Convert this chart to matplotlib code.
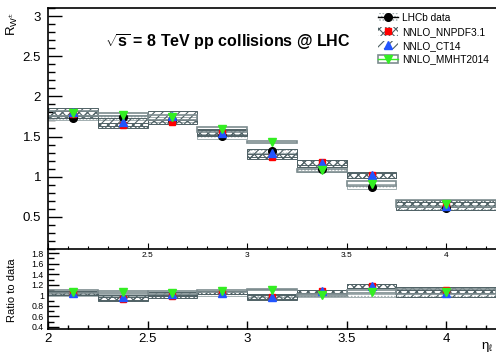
import matplotlib
matplotlib.use("Agg")
import matplotlib.pyplot as plt
from matplotlib.lines import Line2D
from matplotlib.patches import Rectangle
from matplotlib.ticker import MultipleLocator
import numpy as np

plt.rcParams['font.family'] = ['Liberation Sans', 'DejaVu Sans']
plt.rcParams['mathtext.fontset'] = 'custom'
plt.rcParams['mathtext.rm'] = 'Liberation Sans'
plt.rcParams['mathtext.it'] = 'Liberation Sans:italic'
plt.rcParams['mathtext.bf'] = 'Liberation Sans:bold'
plt.rcParams['hatch.linewidth'] = 0.8

# eta bins
eta_lo = [2.0, 2.25, 2.5, 2.75, 3.0, 3.25, 3.5, 3.75]
eta_hi = [2.25, 2.5, 2.75, 3.0, 3.25, 3.5, 3.75, 4.25]
eta_mid = [2.125, 2.375, 2.625, 2.875, 3.125, 3.375, 3.625, 4.0]

# main panel: R_W values and half-height of the boxes
lhcb = [1.735, 1.74, 1.71, 1.505, 1.32, 1.09, 0.873, 0.615]
nnpdf = [1.775, 1.64, 1.68, 1.55, 1.25, 1.18, 1.02, 0.665]
ct14 = [1.81, 1.68, 1.76, 1.55, 1.29, 1.165, 1.02, 0.64]
mmht = [1.79, 1.77, 1.74, 1.59, 1.435, 1.08, 0.915, 0.665]
err_lhcb = [0.03, 0.03, 0.03, 0.03, 0.03, 0.03, 0.03, 0.03]
err_nnpdf = [0.04, 0.03, 0.03, 0.03, 0.03, 0.03, 0.03, 0.04]
err_ct14 = [0.05, 0.05, 0.06, 0.04, 0.05, 0.04, 0.04, 0.05]
err_mmht = [0.03, 0.02, 0.03, 0.03, 0.01, 0.02, 0.03, 0.04]

# ratio panel
r_nnpdf = [1.04, 0.93, 0.98, 1.05, 0.97, 1.08, 1.17, 1.10]
r_ct14 = [1.04, 0.96, 1.03, 1.05, 0.97, 1.08, 1.17, 1.04]
r_mmht = [1.07, 1.06, 1.05, 1.08, 1.11, 1.00, 1.07, 1.07]
r_err_lhcb = [0.02, 0.02, 0.02, 0.02, 0.03, 0.03, 0.03, 0.04]
r_err_nnpdf = [0.03, 0.03, 0.03, 0.03, 0.04, 0.03, 0.04, 0.06]
r_err_ct14 = [0.04, 0.04, 0.04, 0.03, 0.05, 0.03, 0.04, 0.07]
r_err_mmht = [0.03, 0.02, 0.03, 0.02, 0.01, 0.02, 0.03, 0.05]

labels = ['LHCb data', 'NNLO_NNPDF3.1', 'NNLO_CT14', 'NNLO_MMHT2014']

DARK = '#4f6165'
LIGHT = '#a3afb1'
MID = '#7d8c8f'


def draw_boxes(ax, centers, err, hatch, color, lw=0.7):
    lo = np.array(eta_lo)
    hi = np.array(eta_hi)
    c = np.array(centers)
    e = np.array(err)
    ax.bar(lo, 2 * e, width=hi - lo, bottom=c - e, align='edge',
           fill=False, hatch=hatch, edgecolor=color, linewidth=lw, zorder=2)


def draw_points(ax, values):
    ax.plot(eta_mid, values[0], 'o', color='black', ms=5.5, zorder=5)
    ax.plot(eta_mid, values[1], 's', color='#ff0000', ms=5, zorder=6)
    ax.plot(eta_mid, values[2], '^', color='#2255ff', ms=5.5, zorder=7)
    ax.plot(eta_mid, values[3], 'v', color='#33ee22', ms=5.5, zorder=8)


fig = plt.figure(figsize=(4.96, 3.54), dpi=100)
ax = fig.add_axes([48 / 496, 1 - 249 / 354, 1 - 48 / 496, 241 / 354])
rax = fig.add_axes([48 / 496, 1 - 329 / 354, 1 - 48 / 496, 80 / 354])
rax.patch.set_visible(False)
ax.set_zorder(3)

# main panel
draw_boxes(ax, lhcb, err_lhcb, '.....', LIGHT)
draw_boxes(ax, nnpdf, err_nnpdf, 'xxxx', DARK)
draw_boxes(ax, ct14, err_ct14, '////', DARK)
draw_boxes(ax, mmht, err_mmht, None, MID, lw=1.2)
draw_points(ax, [lhcb, nnpdf, ct14, mmht])

ax.set_xlim(2, 4.25)
ax.set_ylim(0.1, 3.1)
ax.spines['right'].set_visible(False)
ax.yaxis.set_minor_locator(MultipleLocator(0.1))
ax.set_yticks([0.5, 1, 1.5, 2, 2.5, 3])
ax.set_yticklabels(['0.5', '1', '1.5', '2', '2.5', '3'])
ax.set_xticks([2, 2.5, 3, 3.5, 4])
ax.set_xticklabels(['', '2.5', '3', '3.5', '4'])
ax.xaxis.set_minor_locator(MultipleLocator(0.1))
ax.tick_params(axis='y', which='major', direction='in', length=10, width=1,
               labelsize=9.5, pad=5)
ax.tick_params(axis='y', which='minor', direction='in', length=5, width=1)
ax.tick_params(axis='x', which='major', direction='in', length=4, width=0.8,
               labelsize=6, pad=2)
ax.tick_params(axis='x', which='minor', direction='in', length=2, width=0.8)
for s in ['top', 'left', 'bottom']:
    ax.spines[s].set_linewidth(1.2)

# legend
handles = [
    (Rectangle((0, 0), 1, 1, fill=False, hatch='.....', edgecolor=LIGHT, lw=0),
     Line2D([], [], color='black', marker='o', ms=5.5, lw=1)),
    (Rectangle((0, 0), 1, 1, fill=False, hatch='xxxx', edgecolor=DARK, lw=0),
     Line2D([], [], color='#ff0000', marker='s', ms=5, lw=0)),
    (Rectangle((0, 0), 1, 1, fill=False, hatch='////', edgecolor=DARK, lw=0),
     Line2D([], [], color='#2255ff', marker='^', ms=5.5, lw=0)),
    (Rectangle((0, 0), 1, 1, fill=False, edgecolor=MID, lw=1.2),
     Line2D([], [], color='#33ee22', marker='v', ms=5.5, lw=1)),
]
fig.legend(handles, labels, loc='upper left',
           bbox_to_anchor=(378 / 496, 1 - 13 / 354), bbox_transform=fig.transFigure,
           frameon=False, fontsize=7.3, borderpad=0, borderaxespad=0,
           handlelength=2.0, handleheight=0.9, handletextpad=0.4, labelspacing=0.38)

fig.text(228 / 496, 1 - 42 / 354, r'$\mathbf{\sqrt{s}}$' + ' = 8 TeV pp collisions @ LHC',
         fontsize=11.5, fontweight='bold', ha='center', va='center')
fig.text(12 / 496, 1 - 24 / 354, r'$\mathregular{R_{W^{\pm}}}$', rotation=90,
         fontsize=9.5, ha='center', va='center')

# ratio panel
draw_boxes(rax, [1] * 8, r_err_lhcb, '.....', LIGHT)
draw_boxes(rax, r_nnpdf, r_err_nnpdf, 'xxxx', DARK)
draw_boxes(rax, r_ct14, r_err_ct14, '////', DARK)
draw_boxes(rax, r_mmht, r_err_mmht, None, MID, lw=1.2)
rax.plot(eta_mid, r_nnpdf, 's', color='#ff0000', ms=5, zorder=6)
rax.plot(eta_mid, r_ct14, '^', color='#2255ff', ms=5.5, zorder=7)
rax.plot(eta_mid, r_mmht, 'v', color='#33ee22', ms=5.5, zorder=8)

rax.set_xlim(2, 4.25)
rax.set_ylim(0.36, 1.88)
rax.spines['right'].set_visible(False)
rax.spines['top'].set_visible(False)
rax.set_yticks([0.4, 0.6, 0.8, 1.0, 1.2, 1.4, 1.6, 1.8])
rax.set_yticklabels(['0.4', '0.6', '0.8', '1', '1.2', '1.4', '1.6', '1.8'])
rax.yaxis.set_minor_locator(MultipleLocator(0.1))
rax.set_xticks([2, 2.5, 3, 3.5, 4])
rax.set_xticklabels(['2', '2.5', '3', '3.5', '4'])
rax.xaxis.set_minor_locator(MultipleLocator(0.1))
rax.tick_params(axis='y', which='major', direction='in', length=8, width=1,
                labelsize=6.3, pad=3)
rax.tick_params(axis='y', which='minor', direction='in', length=4, width=1)
rax.tick_params(axis='x', which='major', direction='in', length=6, width=1,
                labelsize=9.5, pad=3)
rax.tick_params(axis='x', which='minor', direction='in', length=3, width=1)
for s in ['left', 'bottom']:
    rax.spines[s].set_linewidth(1.2)

fig.text(12 / 496, 1 - 290 / 354, 'Ratio to data', rotation=90,
         fontsize=8, ha='center', va='center')
fig.text(481 / 496, 1 - 347 / 354, r'$\mathregular{\eta_{\ell}}$', fontsize=9.5,
         ha='left', va='center')

fig.savefig('out.png', dpi=100)
